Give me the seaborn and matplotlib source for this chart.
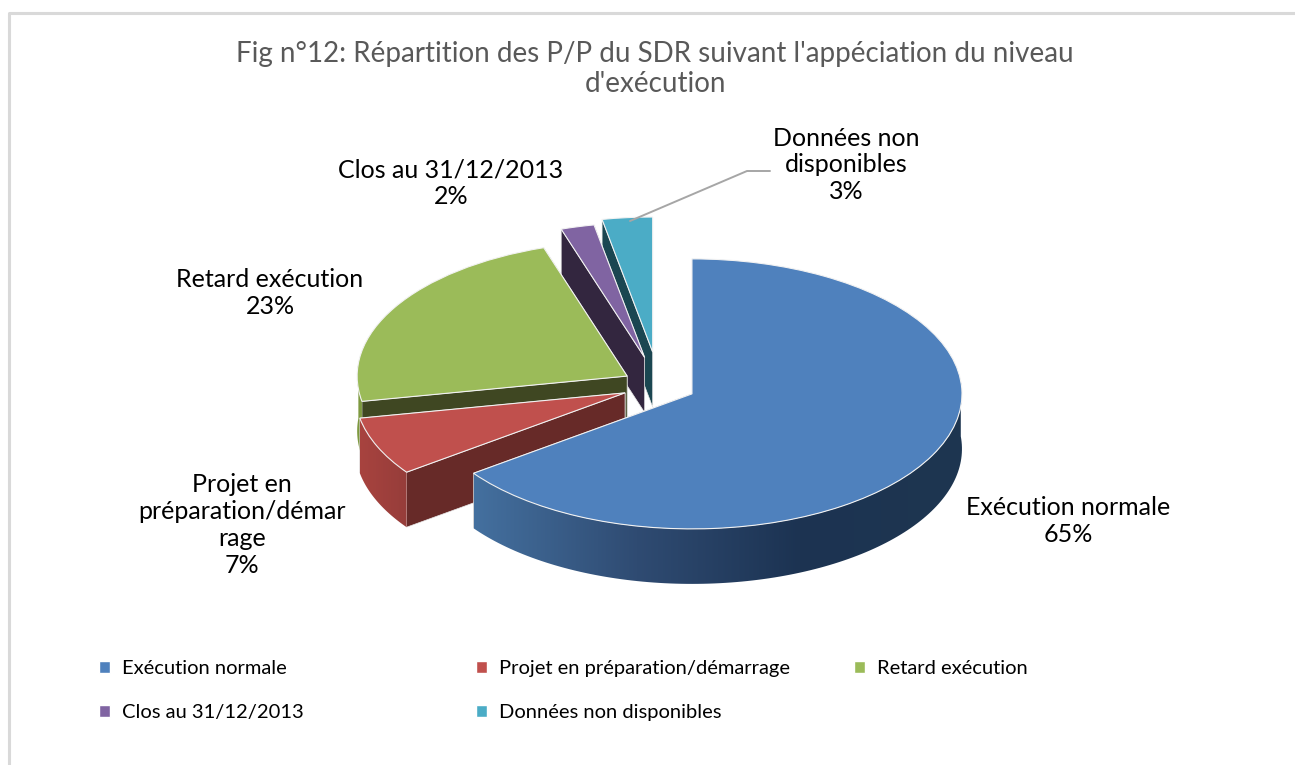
import numpy as np
import matplotlib
matplotlib.use('Agg')
import matplotlib.pyplot as plt
from matplotlib.colors import LinearSegmentedColormap
from matplotlib.lines import Line2D
from matplotlib.patches import Polygon
import seaborn as sns

categories = ['Exécution normale', 'Projet en préparation/démarrage', 'Retard exécution',
              'Clos au 31/12/2013', 'Données non disponibles']
values = [65, 7, 23, 2, 3]
explode = [0.137, 0.137, 0.137, 0.214, 0.249]
top_colors = ['#4f81bd', '#c0504d', '#9bbb59', '#8064a2', '#4bacc6']
cut_colors = ['#1d3552', '#672a28', '#3f4722', '#33263f', '#1b4651']
wall_colors = [['#44709f', '#2f4b72', '#1c3352', '#1e3650'],
               ['#a8433f', '#963d3a'],
               ['#7e9a40', '#7e9a40'],
               ['#33263f', '#33263f'],
               ['#1b4651', '#1b4651']]

W, H = 1295, 765
CX, CY = 659, 385.5   # pie centre in pixels
RX, RY = 270, 135     # ellipse radii in pixels
DEPTH = 55 / RY

sns.set_theme(style='white')
plt.rcParams['font.family'] = ['Lato', 'DejaVu Sans']

fig = plt.figure(figsize=(W / 100, H / 100), dpi=100, facecolor='white')
ax = fig.add_axes([0, 0, 1, 1])
wedges, _ = ax.pie(values, explode=explode, colors=top_colors, startangle=90, counterclock=False,
                   radius=1, wedgeprops={'edgecolor': '#f2f2f2', 'linewidth': 0.8})
ax.set_aspect('auto')


def draw_walls(wedge, cut_color, wall_color, z):
    cx, cy = wedge.center
    # straight cut faces
    for t in (wedge.theta1, wedge.theta2):
        ex = cx + np.cos(np.radians(t))
        ey = cy + np.sin(np.radians(t))
        ax.add_patch(Polygon([(cx, cy), (ex, ey), (ex, ey - DEPTH), (cx, cy - DEPTH)],
                             facecolor=cut_color, edgecolor='#e8e8e8', linewidth=0.5, zorder=z))
    # rounded outer wall, front part only
    t = np.radians(np.linspace(wedge.theta1, wedge.theta2, 200))
    t = t[np.sin(t) < 0.1]
    if len(t) == 0:
        return
    xs = cx + np.cos(t)
    ys = cy + np.sin(t)
    outline = list(zip(xs, ys)) + list(zip(xs[::-1], ys[::-1] - DEPTH))
    clip = Polygon(outline, transform=ax.transData, facecolor='none', edgecolor='none', zorder=z)
    ax.add_patch(clip)
    cmap = LinearSegmentedColormap.from_list('wall', wall_color)
    img = ax.imshow(np.linspace(0, 1, 256)[None, :], cmap=cmap, aspect='auto', zorder=z,
                    extent=(xs.min(), xs.max(), ys.min() - DEPTH, ys.max()))
    img.set_clip_path(clip)


# back to front so that the nearer slices cover the others
for z, i in enumerate([4, 3, 2, 1, 0]):
    draw_walls(wedges[i], cut_colors[i], wall_colors[i], 2 * z + 1)
    wedges[i].set_zorder(2 * z + 2)

ax.set_xlim(-CX / RX, (W - CX) / RX)
ax.set_ylim(-(H - CY) / RY, CY / RY)
ax.axis('off')


def px(x, y):
    return x / W, 1 - y / H


# chart frame
fig.add_artist(Line2D([9 / W, 9 / W, 1], [0, 1 - 13 / H, 1 - 13 / H], color='#d9d9d9', lw=2.2))

# title
fig.text(*px(655, 69), "Fig n°12: Répartition des P/P du SDR suivant l'appéciation du niveau\nd'exécution",
         ha='center', va='center', fontsize=20, color='#595959', linespacing=1.15)

# data labels
data_labels = [f'Exécution normale\n{values[0]}%',
               f'Projet en\npréparation/démar\nrage\n{values[1]}%',
               f'Retard exécution\n{values[2]}%',
               f'Clos au 31/12/2013\n{values[3]}%',
               f'Données non\ndisponibles\n{values[4]}%']
label_pos = [(1068, 521), (242, 525), (270, 293), (451, 183), (846, 165)]
for text, (x, y) in zip(data_labels, label_pos):
    fig.text(*px(x, y), text, ha='center', va='center', fontsize=18, color='black', linespacing=1.2)

# leader line of the last label
fig.add_artist(Line2D([630 / W, 747 / W, 770 / W],
                      [1 - 221 / H, 1 - 171 / H, 1 - 171 / H], color='#a6a6a6', lw=1.4))

# legend, one per column to keep the columns evenly spaced
columns = [([0, 3], 99), ([1, 4], 476), ([2], 854)]
for idx, x in columns:
    handles = [plt.Rectangle((0, 0), 1, 1, facecolor=top_colors[i]) for i in idx]
    leg = fig.legend(handles, [categories[i] for i in idx], loc='upper left', frameon=False,
                     bbox_to_anchor=px(x, 660), bbox_transform=fig.transFigure, borderpad=0,
                     borderaxespad=0, handlelength=0.55, handleheight=0.55, handletextpad=0.6,
                     labelspacing=1.35, fontsize=14.5)
    for t in leg.get_texts():
        t.set_color('black')

fig.savefig('out.png', dpi=100, facecolor='white')
